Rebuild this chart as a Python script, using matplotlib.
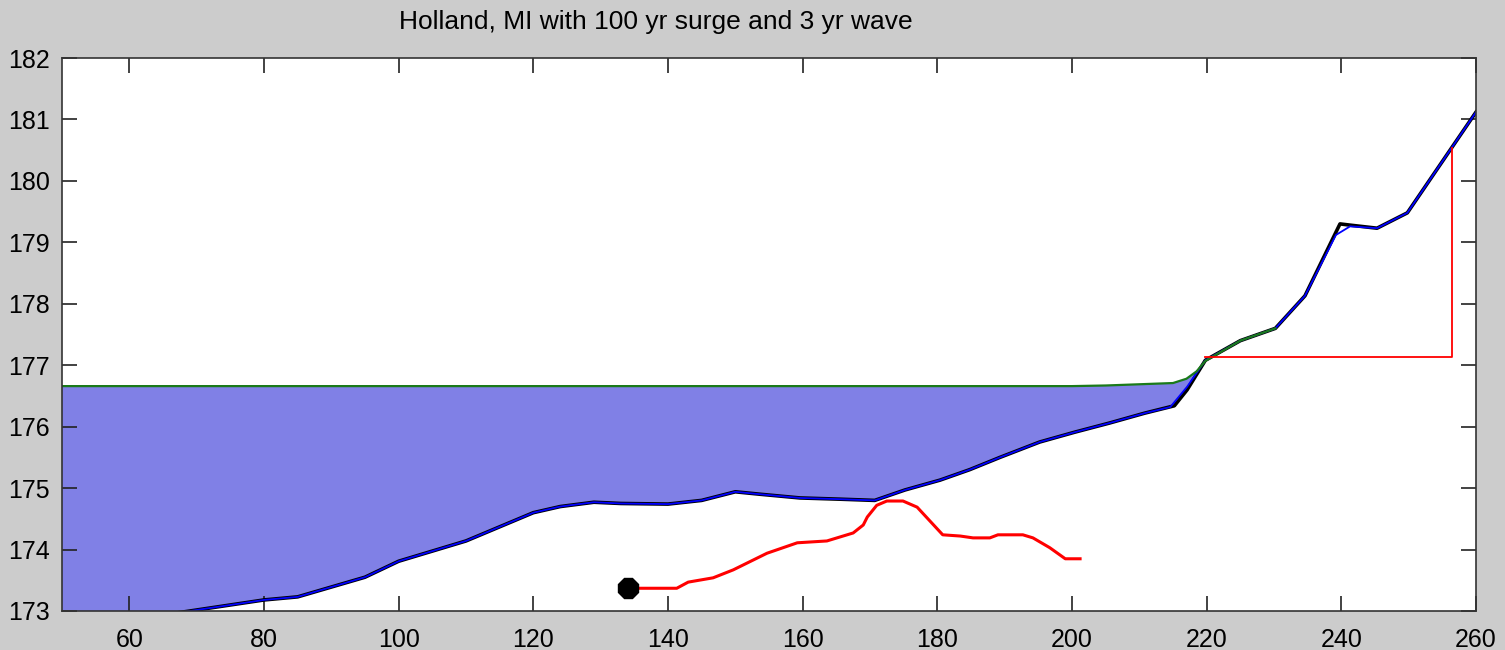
import numpy as np
import matplotlib
matplotlib.use('Agg')
import matplotlib.pyplot as plt

plt.rcParams['font.family'] = ['Liberation Sans', 'DejaVu Sans']

# surveyed ground profile (distance, elevation)
ground_x = [50, 69, 80, 85, 95, 100, 110, 120, 124, 129, 133, 140, 145, 150, 153.7,
            159.6, 165.5, 170.7, 175.2, 180.4, 184.8, 189.3, 195.2, 200.4, 205.6,
            210.8, 215.2, 217.1, 219.8, 225, 230.2, 234.6, 239.8, 241.3, 245.3,
            249.8, 260]
ground_y = [172.7, 173.0, 173.18, 173.23, 173.55, 173.81, 174.14, 174.6, 174.7, 174.77,
            174.75, 174.74, 174.8, 174.94, 174.9, 174.84, 174.82, 174.8, 174.97, 175.13,
            175.3, 175.5, 175.75, 175.91, 176.06, 176.22, 176.34, 176.6, 177.08, 177.4,
            177.6, 178.13, 179.3, 179.28, 179.23, 179.48, 181.12]

# smoothed profile used for the model run
profile_x = [50, 69, 80, 85, 95, 100, 110, 120, 124, 129, 133, 140, 145, 150, 153.7,
             159.6, 165.5, 170.7, 175.2, 180.4, 184.8, 189.3, 195.2, 200.4, 205.6,
             210.8, 214.6, 217.1, 219.8, 225, 230.2, 234.6, 239.2, 241.3, 245.3,
             249.8, 260]
profile_y = [172.7, 173.0, 173.18, 173.23, 173.55, 173.81, 174.14, 174.6, 174.7, 174.77,
             174.75, 174.74, 174.8, 174.94, 174.9, 174.84, 174.82, 174.8, 174.97, 175.13,
             175.3, 175.5, 175.75, 175.91, 176.06, 176.22, 176.32, 176.65, 177.08, 177.4,
             177.6, 178.13, 179.12, 179.26, 179.23, 179.48, 181.12]

# 100 yr surge water level with wave setup near shore
water_x = [50, 200, 205, 210, 215, 217, 218.5, 219.8, 225, 230.2]
water_y = [176.66, 176.66, 176.67, 176.69, 176.71, 176.78, 176.9, 177.07, 177.4, 177.6]

# wave runup trace
runup_x = [134, 141.3, 143.0, 146.7, 149.7, 154.7, 159.2, 163.6, 167.5, 169.0, 169.6,
           171.0, 172.5, 174.9, 177.0, 180.8, 183.4, 185.3, 187.8, 189.0, 192.7, 194.2,
           196.7, 199.0, 201.2]
runup_y = [173.37, 173.37, 173.47, 173.54, 173.67, 173.94, 174.11, 174.14, 174.27, 174.40,
           174.53, 174.72, 174.79, 174.79, 174.69, 174.24, 174.22, 174.19, 174.19, 174.24,
           174.24, 174.19, 174.03, 173.85, 173.85]

# runup limit box
limit_x = [219.8, 256.4, 256.4]
limit_y = [177.13, 177.13, 180.53]

fig = plt.figure(figsize=(15.05, 6.5), dpi=100, facecolor='#cccccc')
ax = fig.add_axes([62 / 1505, 39 / 650, 1414 / 1505, 553 / 650])

xx = np.union1d(profile_x, water_x)
xx = xx[xx <= max(water_x)]
gy = np.interp(xx, profile_x, profile_y)
wy = np.interp(xx, water_x, water_y)
ax.fill_between(xx, gy, wy, where=wy >= gy, interpolate=True,
                color='#8080e6', linewidth=0)

ax.plot(ground_x, ground_y, color='black', lw=2.6)
ax.plot(profile_x, profile_y, color='blue', lw=1.3)
ax.plot(water_x, water_y, color='#1a7a1a', lw=1.6)
ax.plot(limit_x, limit_y, color='red', lw=1.3)
ax.plot(runup_x, runup_y, color='red', lw=2.2)
ax.plot(runup_x[0], runup_y[0], marker='8', color='black', markersize=16)

ax.set_xlim(50, 260)
ax.set_ylim(173, 182)
ax.set_xticks(np.arange(60, 261, 20))
ax.set_yticks(np.arange(173, 183, 1))
ax.tick_params(direction='in', length=11, width=1.2, top=True, right=True,
               labelsize=18, colors='#222222', labelcolor='black')
ax.tick_params(axis='x', pad=12)
ax.tick_params(axis='y', pad=9)
for s in ax.spines.values():
    s.set_color('#333333')
    s.set_linewidth(1.2)

fig.text(656 / 1505, 1 - 22 / 650, 'Holland, MI with 100 yr surge and 3 yr wave',
         ha='center', va='center', fontsize=19)

fig.savefig('out.png', dpi=100, facecolor=fig.get_facecolor())
